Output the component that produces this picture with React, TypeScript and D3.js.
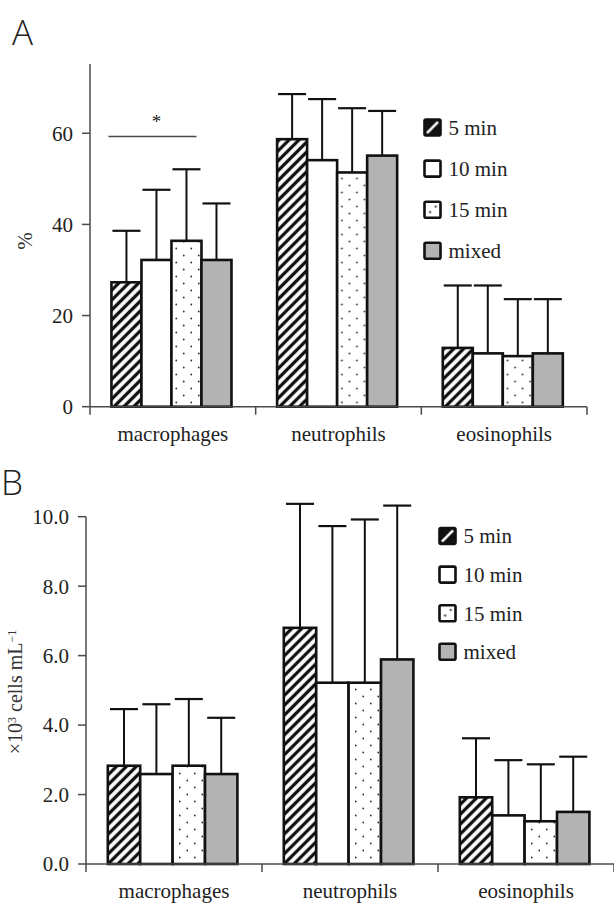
import React from "react";
import * as d3 from "d3";

const categories = ["macrophages", "neutrophils", "eosinophils"];
const series = ["5 min", "10 min", "15 min", "mixed"];

// panel A: percentage of cells (mean, sd)
const pctMean = [
  [27.3, 32.2, 36.4, 32.2],
  [58.7, 54.1, 51.4, 55.1],
  [12.9, 11.7, 11.1, 11.7],
];
const pctSd = [
  [11.3, 15.4, 15.7, 12.4],
  [9.9, 13.4, 14.1, 9.8],
  [13.7, 14.9, 12.5, 11.9],
];
const pctTicks = [0, 20, 40, 60];

// panel B: x10^3 cells per mL (mean, sd)
const cellMean = [
  [2.83, 2.59, 2.83, 2.59],
  [6.8, 5.22, 5.22, 5.89],
  [1.92, 1.4, 1.23, 1.5],
];
const cellSd = [
  [1.63, 2.01, 1.92, 1.62],
  [3.57, 4.51, 4.7, 4.43],
  [1.7, 1.59, 1.64, 1.59],
];
const cellTicks = [0, 2, 4, 6, 8, 10];

const fills = ["url(#hatch)", "#ffffff", "url(#dots)", "#b3b3b3"];
const serif = "Liberation Serif";
const sans = "Open Sans";
const axisColor = "#4a4a4a";

type PanelProps = {
  mean: number[][];
  sd: number[][];
  ticks: number[];
  fmt: (n: number) => string;
  xRange: [number, number];
  yRange: [number, number];
  yMax: number;
  padOuter: number;
  legendX: number;
  legendY: number;
  legendStep: number;
  star?: boolean;
};

function Panel(p: PanelProps) {
  const x0 = d3.scaleBand<string>().domain(categories).range(p.xRange);
  const x1 = d3
    .scaleBand<string>()
    .domain(series)
    .range([0, x0.bandwidth()])
    .paddingOuter(p.padOuter)
    .align(0.47);
  const y = d3.scaleLinear().domain([0, p.yMax]).range(p.yRange);
  const bw = x1.bandwidth();
  const y0 = y(0);
  const axisLeft = p.xRange[0];
  const txt = { fontFamily: serif, fontSize: 21, fill: "#222" };

  return (
    <g>
      {/* bars + error bars */}
      {categories.map((c, ci) => (
        <g key={c} transform={`translate(${x0(c)},0)`}>
          {series.map((s, si) => {
            const v = p.mean[ci][si];
            const top = y(v + p.sd[ci][si]);
            const cx = (x1(s) as number) + bw / 2;
            return (
              <g key={s}>
                <line x1={cx} x2={cx} y1={y(v)} y2={top} stroke="#111" strokeWidth={2} />
                <line x1={cx - 14} x2={cx + 14} y1={top} y2={top} stroke="#111" strokeWidth={2.2} />
              </g>
            );
          })}
          {series.map((s, si) => {
            const v = p.mean[ci][si];
            return (
              <rect
                key={s}
                x={x1(s)}
                y={y(v)}
                width={bw}
                height={y0 - y(v)}
                fill={fills[si]}
                stroke="#111"
                strokeWidth={2.6}
              />
            );
          })}
        </g>
      ))}

      {/* x axis */}
      <line x1={axisLeft} x2={p.xRange[1]} y1={y0} y2={y0} stroke={axisColor} strokeWidth={1.5} />
      {categories.map((c) => (
        <line
          key={c + "t"}
          x1={(x0(c) as number) + x0.bandwidth()}
          x2={(x0(c) as number) + x0.bandwidth()}
          y1={y0}
          y2={y0 + 8}
          stroke={axisColor}
          strokeWidth={1.5}
        />
      ))}
      {categories.map((c) => (
        <text
          key={c + "l"}
          x={(x0(c) as number) + x0.bandwidth() / 2}
          y={y0 + 34}
          textAnchor="middle"
          style={txt}
        >
          {c}
        </text>
      ))}

      {/* y axis */}
      <line x1={axisLeft} x2={axisLeft} y1={y(p.yMax)} y2={y0 + 8} stroke={axisColor} strokeWidth={1.5} />
      {p.ticks.map((t) => (
        <g key={t}>
          <line x1={axisLeft - 8} x2={axisLeft} y1={y(t)} y2={y(t)} stroke={axisColor} strokeWidth={1.5} />
          <text x={axisLeft - 17} y={y(t)} dy="0.35em" textAnchor="end" style={txt}>
            {p.fmt(t)}
          </text>
        </g>
      ))}

      {p.star && (
        <g>
          <line
            x1={(x0(categories[0]) as number) + (x1(series[0]) as number) - 3}
            x2={(x0(categories[0]) as number) + (x1(series[2]) as number) + bw - 5}
            y1={y(59.3)}
            y2={y(59.3)}
            stroke={axisColor}
            strokeWidth={1.5}
          />
          <text
            x={(x0(categories[0]) as number) + (x1(series[1]) as number) + bw / 2}
            y={y(59.3) - 8}
            textAnchor="middle"
            style={{ ...txt, fontSize: 19 }}
          >
            *
          </text>
        </g>
      )}

      {/* legend */}
      {series.map((s, i) => {
        const cy = p.legendY + i * p.legendStep;
        return (
          <g key={s}>
            <rect
              x={p.legendX}
              y={cy - 8}
              width={16}
              height={16}
              rx={1.5}
              fill={i === 0 ? "url(#hatchKey)" : i === 2 ? "url(#dotKey)" : fills[i]}
              stroke="#111"
              strokeWidth={2.6}
            />
            <text x={p.legendX + 24} y={cy} dy="0.35em" style={txt}>
              {s}
            </text>
          </g>
        );
      })}
    </g>
  );
}

export default function App() {
  return (
    <svg
      width={614}
      height={905}
      style={{ position: "absolute", left: 0, top: 0, background: "#fff" }}
    >
      <defs>
        <pattern id="hatch" patternUnits="userSpaceOnUse" width={7} height={7} patternTransform="rotate(45)">
          <rect width={7} height={7} fill="#fff" />
          <line x1={3.5} x2={3.5} y1={0} y2={7} stroke="#111" strokeWidth={3.3} />
        </pattern>
        <pattern id="dots" patternUnits="userSpaceOnUse" width={15} height={14}>
          <rect width={15} height={14} fill="#fff" />
          <circle cx={3.75} cy={3.5} r={0.9} fill="#333" />
          <circle cx={11.25} cy={10.5} r={0.9} fill="#333" />
        </pattern>
        <pattern id="hatchKey" patternContentUnits="objectBoundingBox" width={1} height={1}>
          <rect width={1} height={1} fill="#111" />
          <path d="M0.15,0.85 L0.85,0.15" stroke="#fff" strokeWidth={0.16} />
        </pattern>
        <pattern id="dotKey" patternContentUnits="objectBoundingBox" width={1} height={1}>
          <rect width={1} height={1} fill="#fff" />
          <circle cx={0.35} cy={0.65} r={0.07} fill="#333" />
          <circle cx={0.7} cy={0.3} r={0.07} fill="#333" />
        </pattern>
      </defs>

      <text x={12} y={45} style={{ fontFamily: sans, fontWeight: 300, fontSize: 35, fill: "#222" }}>
        A
      </text>
      <text
        transform="translate(32,241) rotate(-90)"
        textAnchor="middle"
        style={{ fontFamily: serif, fontSize: 21, fill: "#333" }}
      >
        %
      </text>
      <Panel
        mean={pctMean}
        sd={pctSd}
        ticks={pctTicks}
        fmt={d3.format("d")}
        xRange={[90, 587]}
        yRange={[406.7, 64]}
        yMax={75.2}
        padOuter={0.76}
        legendX={424.5}
        legendY={127.5}
        legendStep={41.1}
        star
      />

      <text
        x={1}
        y={495}
        style={{ fontFamily: sans, fontWeight: 300, fontSize: 35, fill: "#222" }}
      >
        B
      </text>
      <text
        transform="translate(22,692) rotate(-90)"
        textAnchor="middle"
        style={{ fontFamily: serif, fontSize: 20, fill: "#333" }}
      >
        ×10
        <tspan fontSize={12} dy={-6}>3</tspan>
        <tspan dy={6}> cells mL</tspan>
        <tspan fontSize={12} dy={-6}>−1</tspan>
      </text>
      <Panel
        mean={cellMean}
        sd={cellSd}
        ticks={cellTicks}
        fmt={d3.format(".1f")}
        xRange={[86, 614]}
        yRange={[864, 516.7]}
        yMax={10}
        padOuter={0.716}
        legendX={439.5}
        legendY={536}
        legendStep={38.6}
      />
    </svg>
  );
}
